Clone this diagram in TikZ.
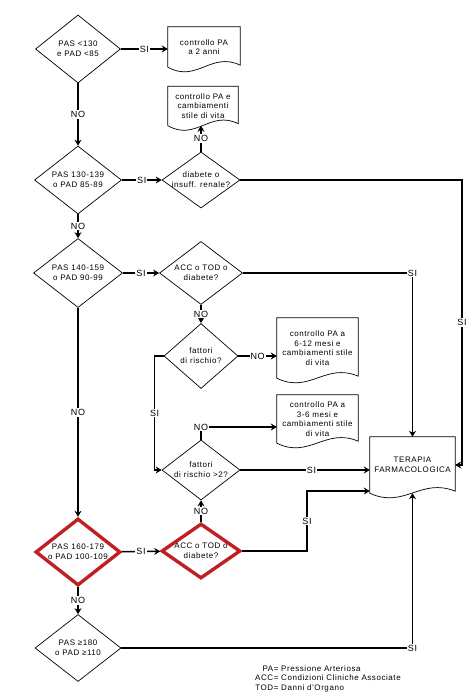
\documentclass[tikz,border=0pt]{standalone}
\usepackage{fontspec}
\setmainfont{Liberation Sans}[LetterSpace=7]
\usetikzlibrary{calc,shapes.geometric,arrows.meta}

\definecolor{alarm}{RGB}{192,32,36}

\tikzset{
  dia/.style={diamond, draw, line width=0.7pt, aspect=1.5, inner sep=-3pt,
    align=center, font=\fontsize{8}{10}\selectfont},
  hot/.style={dia, draw=alarm, line width=3.4pt},
  doc/.style={inner sep=0pt, align=center, font=\fontsize{8}{9.5}\selectfont},
  conn/.style={line width=1.5pt, -{Stealth[length=6pt,width=7pt,inset=2pt]}},
  lbl/.style={fill=white, inner sep=1pt, font=\fontsize{9}{10}\selectfont}
}

% document box: plain top, wavy bottom
\newcommand{\docoutline}[1]{%
  \draw[line width=0.7pt] (#1.south west) -- (#1.north west) -- (#1.north east)
    -- ($(#1.south east)+(0,-2)$)
    .. controls ($(#1.south west)!0.6!(#1.south east)+(0,-16)$)
    and ($(#1.south west)!0.4!(#1.south east)+(0,16)$) .. (#1.south west);
}

\begin{document}
\begin{tikzpicture}[x=1pt, y=-1pt]
  \useasboundingbox (0,0) rectangle (466,700);

  % left column: pressure classes
  \node[dia, minimum width=85, minimum height=68] (d1) at (78,49) {PAS <130\\e PAD <85};
  \node[dia, minimum width=87, minimum height=68] (d2) at (78,180) {PAS 130-139\\o PAD 85-89};
  \node[dia, minimum width=89, minimum height=69] (d4) at (78,273) {PAS 140-159\\o PAD 90-99};
  \node[hot, minimum width=85, minimum height=67] (d8) at (78,552) {PAS 160-179\\o PAD 100-109};
  \node[dia, minimum width=86, minimum height=67] (d10) at (78,648) {PAS ≥180\\o PAD ≥110};

  % middle column: further checks
  \node[dia, minimum width=78, minimum height=56] (d3) at (201,180) {diabete o\\insuff. renale?};
  \node[dia, minimum width=83, minimum height=63] (d5) at (201,273) {ACC o TOD o\\diabete?};
  \node[dia, minimum width=74, minimum height=65] (d6) at (201,356) {fattori\\di rischio?};
  \node[dia, minimum width=78, minimum height=60] (d7) at (201,470) {fattori\\di rischio >2?};
  \node[hot, minimum width=79, minimum height=55] (d9) at (201,551) {ACC o TOD o\\diabete?};

  % outcomes
  \node[doc, minimum width=72, minimum height=40] (doc1) at (204,47) {controllo PA\\a 2 anni};
  \node[doc, minimum width=70, minimum height=39] (doc2) at (203,106) {controllo PA e\\cambiamenti\\stile di vita};
  \node[doc, minimum width=81, minimum height=60] (doc3) at (317.5,348) {controllo PA a\\6-12 mesi e\\cambiamenti stile\\di vita};
  \node[doc, minimum width=81, minimum height=48] (doc4) at (317.5,419) {controllo PA a\\3-6 mesi e\\cambiamenti stile\\di vita};
  \node[doc, minimum width=85, minimum height=56] (ther) at (412.5,465) {TERAPIA\\FARMACOLOGICA};
  \docoutline{doc1}
  \docoutline{doc2}
  \docoutline{doc3}
  \docoutline{doc4}
  \docoutline{ther}

  \coordinate (k3) at (462,180);
  \coordinate (k9) at (307,491);

  % connectors
  \draw[conn] (d1.east) -- node[lbl]{SI} (d1.east -| doc1.west);
  \draw[conn] (d1) -- node[lbl]{NO} (d2);
  \draw[conn] (d2) -- node[lbl]{SI} (d3);
  \draw[conn] (d3.north) -- node[lbl]{NO} (d3.north |- doc2.south);
  \draw[conn] (d3.east) -- (k3) |- node[lbl,pos=0.25]{SI} (ther.east);
  \draw[conn] (d2) -- node[lbl]{NO} (d4);
  \draw[conn] (d4) -- node[lbl]{SI} (d5);
  \draw[conn] (d5.east) -| node[lbl,pos=0.5]{SI} (ther.north);
  \draw[conn] (d5) -- node[lbl]{NO} (d6);
  \draw[conn] (d6.east) -- node[lbl]{NO} (d6.east -| doc3.west);
  \draw[conn] (d6.west) -- ++(-9,0) |- node[lbl,pos=0.25]{SI} (d7.west);
  \draw[conn] (d7.north) |- node[lbl,pos=0.5]{NO} ($(doc4.west)+(0,8)$);
  \draw[conn] (d7.east) -- node[lbl,pos=0.55]{SI} (d7.east -| ther.west);
  \draw[conn] (d4) -- node[lbl]{NO} (d8);
  \draw[conn] (d9) -- node[lbl]{NO} (d7);
  \draw[conn] (d8) -- node[lbl]{SI} (d9);
  \draw[conn] (d9.east) -| node[lbl,pos=0.75]{SI} (k9) -- (k9 -| ther.west);
  \draw[conn] (d8) -- node[lbl]{NO} (d10);
  \draw[conn] (d10.east) -| node[lbl,pos=0.5]{SI} (ther.south);

  % legend
  \node[anchor=west, inner sep=0pt, font=\fontsize{8}{9.5}\selectfont] (key) at (255,679)
    {\begin{tabular}{@{}r@{ }l@{}}
      PA= & Pressione Arteriosa\\
      ACC= & Condizioni Cliniche Associate\\
      TOD= & Danni d'Organo
    \end{tabular}};
\end{tikzpicture}
\end{document}
